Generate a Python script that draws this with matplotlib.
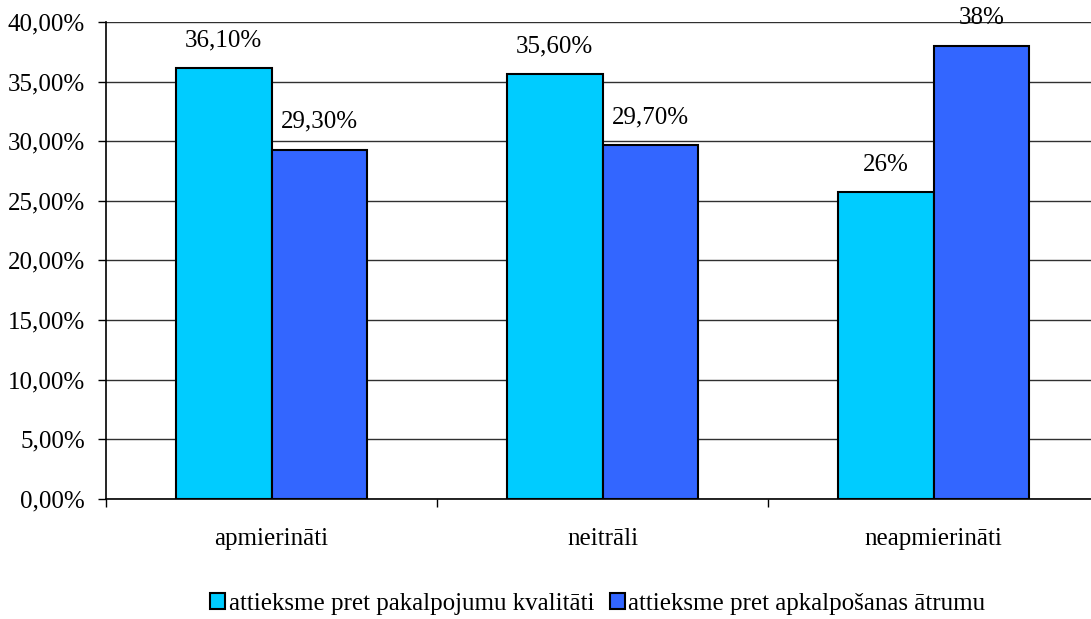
import matplotlib
matplotlib.use("Agg")
import matplotlib.pyplot as plt
import numpy as np

categories = ["apmierināti", "neitrāli", "neapmierināti"]
series_names = ["attieksme pret pakalpojumu kvalitāti", "attieksme pret apkalpošanas ātrumu"]
quality = [36.1, 35.6, 25.7]
speed = [29.3, 29.7, 38.0]
quality_labels = ["36,10%", "35,60%", "26%"]
speed_labels = ["29,30%", "29,70%", "38%"]
yticks = [0, 5, 10, 15, 20, 25, 30, 35, 40]
ytick_labels = ["0,00%", "5,00%", "10,00%", "15,00%", "20,00%", "25,00%", "30,00%", "35,00%", "40,00%"]

plt.rcParams['font.family'] = ['Liberation Serif', 'DejaVu Serif']
FS = 18

W, H = 1091, 619
fig = plt.figure(figsize=(W / 100, H / 100), dpi=100)
ax = fig.add_axes([106 / W, (H - 498.7) / H, 993 / W, 476.7 / H])

x = np.arange(len(categories))
bw = 0.29
b1 = ax.bar(x - bw / 2, quality, bw, color="#00CCFF", edgecolor="black", linewidth=1.5, zorder=3,
            label=series_names[0])
b2 = ax.bar(x + bw / 2, speed, bw, color="#3366FF", edgecolor="black", linewidth=1.5, zorder=3,
            label=series_names[1])

for rects, labs in ((b1, quality_labels), (b2, speed_labels)):
    for r, lab in zip(rects, labs):
        ax.annotate(lab, (r.get_x() + r.get_width() / 2, r.get_height()), xytext=(0, 20),
                    textcoords="offset points", ha="center", va="center", fontsize=FS, zorder=4)

ax.set_ylim(0, 40)
ax.set_xlim(-0.5, 2.5)
ax.set_yticks(yticks)
ax.set_yticklabels(ytick_labels, fontsize=FS)
ax.yaxis.grid(True, color="#303030", linewidth=1.0, zorder=0)
ax.set_xticks(x)
ax.set_xticklabels(categories, fontsize=FS)
ax.set_xticks([-0.5, 0.5, 1.5, 2.5], minor=True)
ax.tick_params(axis="x", which="major", length=0, pad=21)
ax.tick_params(axis="x", which="minor", length=6, width=1, direction="out")
ax.tick_params(axis="y", length=6, width=1, direction="out", pad=9)

for s in ("top", "right"):
    ax.spines[s].set_visible(False)
ax.spines["left"].set_linewidth(1.2)
ax.spines["bottom"].set_linewidth(1.2)

fig.legend(handles=[b1, b2], loc="center", bbox_to_anchor=(598 / W, 1 - 604 / H), ncol=2,
           frameon=False, fontsize=FS, handlelength=0.6, handleheight=0.6, handletextpad=0.15,
           columnspacing=0.6, borderaxespad=0)

fig.savefig("out.png", dpi=100)
